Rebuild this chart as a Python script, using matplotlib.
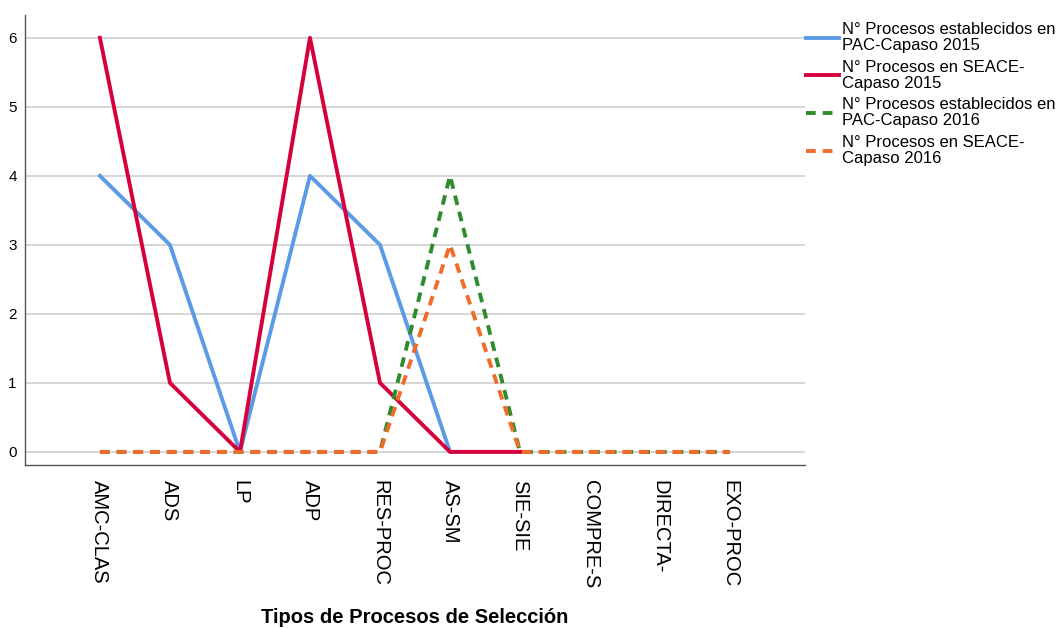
import numpy as np
import matplotlib.pyplot as plt

plt.rcParams['font.family'] = ['Liberation Sans', 'DejaVu Sans']

tipos = ['AMC-CLAS', 'ADS', 'LP', 'ADP', 'RES-PROC', 'AS-SM',
         'SIE-SIE', 'COMPRE-S', 'DIRECTA-', 'EXO-PROC']

pac_2015 = [4, 3, 0, 4, 3, 0, 0, np.nan, np.nan, np.nan]
seace_2015 = [6, 1, 0, 6, 1, 0, 0, np.nan, np.nan, np.nan]
pac_2016 = [0, 0, 0, 0, 0, 4, 0, 0, 0, 0]
seace_2016 = [0, 0, 0, 0, 0, 3, 0, 0, 0, 0]

labels = ['N° Procesos establecidos en\nPAC-Capaso 2015',
          'N° Procesos en SEACE-\nCapaso 2015',
          'N° Procesos establecidos en\nPAC-Capaso 2016',
          'N° Procesos en SEACE-\nCapaso 2016']

fig = plt.figure(figsize=(10.61, 6.28), dpi=100)
ax = fig.add_axes([25 / 1061, 1 - 465 / 628, 780 / 1061, 450 / 628])

x = np.arange(len(tipos))
lw = 2.8
dash = (2.5, 1.8)
h1, = ax.plot(x, pac_2015, color='#5B9BE6', lw=lw, label=labels[0])
h2, = ax.plot(x, seace_2015, color='#D6003C', lw=lw, label=labels[1])
h3, = ax.plot(x, pac_2016, color='#2E8B2E', lw=lw, dashes=dash,
              label=labels[2])
h4, = ax.plot(x, seace_2016, color='#F26B2A', lw=lw, dashes=dash,
              label=labels[3])

ax.set_xlim(-1.07, 10.07)
ax.set_ylim(-0.19, 6.33)
ax.set_yticks(range(0, 7))
ax.set_xticks(x)
ax.set_xticklabels(tipos, rotation=270, fontsize=14.5, va='top', ha='center')
ax.tick_params(axis='both', length=0)
ax.tick_params(axis='y', labelsize=11, pad=6)
ax.tick_params(axis='x', pad=11)
ax.yaxis.grid(True, color='#D0D0D0', lw=1.2)
ax.set_axisbelow(True)
for s in ['top', 'right']:
    ax.spines[s].set_visible(False)
for s in ['left', 'bottom']:
    ax.spines[s].set_color('#555555')
    ax.spines[s].set_linewidth(1.0)

ax.set_xlabel('Tipos de Procesos de Selección', fontsize=14.5,
              fontweight='bold', labelpad=14)

leg = fig.legend(handles=[h1, h2, h3, h4], loc='upper left',
                 bbox_to_anchor=(806 / 1061, 1 - 22 / 628), frameon=False,
                 fontsize=12, handlelength=2.0, handletextpad=0.15,
                 labelspacing=0.4, borderaxespad=0, borderpad=0)
for t in leg.get_texts():
    t.set_linespacing(1.08)

fig.savefig('out.png', dpi=100)
